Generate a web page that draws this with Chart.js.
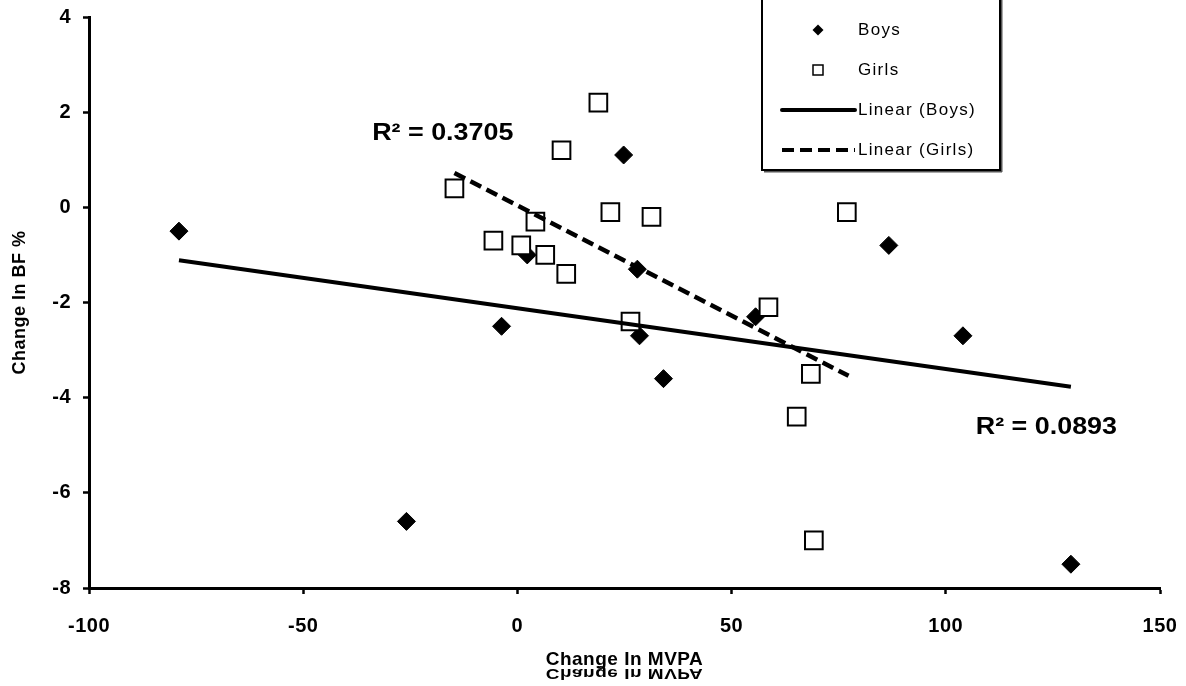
<!DOCTYPE html>
<html>
<head>
<meta charset="utf-8">
<script src="https://cdn.jsdelivr.net/npm/chart.js@4/dist/chart.umd.min.js"></script>
<style>
  html, body { margin: 0; padding: 0; background: #fff; }
  #wrap { width: 1186px; height: 686px; }
</style>
</head>
<body>
<div id="wrap"><canvas id="c" width="1186" height="686"></canvas></div>
<script>
// ---- Data ----
const boysX  = [-79.0, -3.7, -25.9, 24.8, 2.3, 28.0, 28.5, 34.1, 55.6, 86.7, 104.0, 129.2];
const boysY  = [-0.5, -2.5, -6.6, 1.1, -1.0, -1.3, -2.7, -3.6, -2.3, -0.8, -2.7, -7.5];
const girlsX = [-14.7, -5.6, 0.9, 4.2, 6.5, 10.3, 11.4, 18.9, 21.7, 31.3, 26.4, 58.6, 68.5, 65.2, 69.2, 76.9];
const girlsY = [0.4, -0.7, -0.8, -0.3, -1.0, 1.2, -1.4, 2.2, -0.1, -0.2, -2.4, -2.1, -3.5, -4.4, -7.0, -0.1];
// Trend line end points (as drawn in the reference)
const boysTrendX  = [-79.0, 129.2];
const boysTrendY  = [-1.11, -3.77];
const girlsTrendX = [-14.7, 77.3];
const girlsTrendY = [0.72, -3.54];
// R² annotations: text and anchor (left edge, vertical centre) in data units
const r2Texts = ['R² = 0.3705', 'R² = 0.0893'];
const r2X = [-33.9, 107.0];
const r2Y = [1.56, -4.63];
// Axis settings
const xTicks = [-100, -50, 0, 50, 100, 150];
const yTicks = [-8, -6, -4, -2, 0, 2, 4];
const xTitle = 'Change In MVPA';
const yTitle = 'Change In BF %';
const seriesLabels = ['Boys', 'Girls', 'Linear (Boys)', 'Linear (Girls)'];

const pts = (xs, ys) => xs.map((x, i) => ({x: x, y: ys[i]}));
const FONT = '"Liberation Sans", Arial, sans-serif';

const textStyler = {
  id: 'textStyler',
  beforeDraw(chart) { chart.ctx.letterSpacing = '0.5px'; },
  afterDraw(chart) { chart.ctx.letterSpacing = '0px'; }
};

const extras = {
  id: 'extras',
  afterDraw(chart) {
    const ctx = chart.ctx;
    const xs = chart.scales.x, ys = chart.scales.y;
    ctx.save();
    // R² labels
    ctx.fillStyle = '#000';
    ctx.letterSpacing = '0px';
    ctx.font = 'bold 24px ' + FONT;
    ctx.textBaseline = 'middle';
    ctx.textAlign = 'left';
    r2Texts.forEach((t, i) => {
      const px = xs.getPixelForValue(r2X[i]);
      const py = ys.getPixelForValue(r2Y[i]);
      ctx.save();
      ctx.translate(px, py);
      ctx.scale(1.12, 1);
      ctx.fillText(t, 0, 0);
      ctx.restore();
    });

    // mirrored ghost of the x-axis title
    ctx.save();
    ctx.font = 'bold 19px ' + FONT;
    ctx.letterSpacing = '0.5px';
    ctx.textAlign = 'center';
    ctx.textBaseline = 'alphabetic';
    const cx = (chart.chartArea.left + chart.chartArea.right) / 2;
    ctx.translate(cx, 669);
    ctx.scale(1, -0.8);
    ctx.fillText(xTitle, 0, 0);
    ctx.restore();

    // legend box
    const L = 762, R = 1000, B = 170, T = -4;
    ctx.fillStyle = '#fff';
    ctx.fillRect(L, T, R - L, B - T);
    ctx.strokeStyle = '#000';
    ctx.lineWidth = 2;
    ctx.strokeRect(L, T, R - L, B - T);
    ctx.fillStyle = '#555';
    ctx.fillRect(L + 2, B + 1, R - L, 1.5);
    ctx.fillRect(R + 1, T, 1.5, B - T + 2);

    const rows = [30, 70, 110, 150];
    const mx = 818, lx0 = 782, lx1 = 855, tx = 858;
    // Boys marker
    ctx.fillStyle = '#000';
    ctx.beginPath();
    ctx.moveTo(mx, rows[0] - 5.5); ctx.lineTo(mx + 5.5, rows[0]);
    ctx.lineTo(mx, rows[0] + 5.5); ctx.lineTo(mx - 5.5, rows[0]);
    ctx.closePath(); ctx.fill();
    // Girls marker
    ctx.fillStyle = '#fff'; ctx.strokeStyle = '#000'; ctx.lineWidth = 1.5;
    ctx.fillRect(mx - 5, rows[1] - 5, 10, 10);
    ctx.strokeRect(mx - 5, rows[1] - 5, 10, 10);
    // Linear boys
    ctx.lineWidth = 4; ctx.lineCap = 'round';
    ctx.beginPath(); ctx.moveTo(lx0, rows[2]); ctx.lineTo(lx1, rows[2]); ctx.stroke();
    // Linear girls
    ctx.lineCap = 'butt';
    ctx.setLineDash([12, 6]);
    ctx.beginPath(); ctx.moveTo(lx0, rows[3]); ctx.lineTo(lx1, rows[3]); ctx.stroke();
    ctx.setLineDash([]);
    // texts
    ctx.fillStyle = '#000';
    ctx.font = '17px ' + FONT;
    ctx.letterSpacing = '1.3px';
    ctx.textAlign = 'left';
    ctx.textBaseline = 'middle';
    seriesLabels.forEach((t, i) => ctx.fillText(t, tx, rows[i]));
    ctx.restore();
  }
};

new Chart(document.getElementById('c'), {
  type: 'scatter',
  data: {
    datasets: [
      { label: seriesLabels[0], data: pts(boysX, boysY), pointStyle: 'rectRot', pointRadius: 9,
        backgroundColor: '#000', borderColor: '#000', borderWidth: 1, order: 4 },
      { label: seriesLabels[1], data: pts(girlsX, girlsY), pointStyle: 'rect', pointRadius: 12.5,
        backgroundColor: '#fff', borderColor: '#000', borderWidth: 2, order: 3 },
      { label: seriesLabels[2], type: 'line', data: pts(boysTrendX, boysTrendY), showLine: true,
        borderColor: '#000', borderWidth: 4, pointRadius: 0, fill: false, order: 2 },
      { label: seriesLabels[3], type: 'line', data: pts(girlsTrendX, girlsTrendY), showLine: true,
        borderColor: '#000', borderWidth: 4.5, borderDash: [12, 6], pointRadius: 0, fill: false, order: 1 }
    ]
  },
  options: {
    responsive: false,
    animation: false,
    devicePixelRatio: 1,
    layout: { padding: { left: 0, top: 17, right: 26, bottom: 0 } },
    plugins: { legend: { display: false }, tooltip: { enabled: false } },
    scales: {
      x: {
        type: 'linear', min: -100, max: 150,
        afterBuildTicks: s => { s.ticks = xTicks.map(v => ({value: v})); },
        afterFit: s => { s.height = 98; s.paddingLeft = 0; s.paddingRight = 0; },
        ticks: { color: '#000', font: { family: FONT, size: 20, weight: 'bold' }, padding: 20, maxRotation: 0 },
        grid: { drawOnChartArea: false, drawTicks: true, tickLength: 6, tickColor: '#000', tickWidth: 2.5 },
        border: { display: true, color: '#000', width: 3 },
        title: { display: true, text: xTitle, color: '#000', font: { family: FONT, size: 19, weight: 'bold' },
                 padding: { top: 0, bottom: 15 } }
      },
      y: {
        type: 'linear', min: -8, max: 4,
        afterBuildTicks: s => { s.ticks = yTicks.map(v => ({value: v})); },
        afterFit: s => { s.width = 89; s.paddingTop = 0; s.paddingBottom = 0; },
        ticks: { color: '#000', font: { family: FONT, size: 20, weight: 'bold' }, padding: 12 },
        grid: { drawOnChartArea: false, drawTicks: true, tickLength: 6, tickColor: '#000', tickWidth: 2.5 },
        border: { display: true, color: '#000', width: 3 },
        title: { display: true, text: yTitle, color: '#000', font: { family: FONT, size: 18, weight: 'bold' },
                 padding: { top: 9, bottom: 0 } }
      }
    }
  },
  plugins: [textStyler, extras]
});
</script>
</body>
</html>
